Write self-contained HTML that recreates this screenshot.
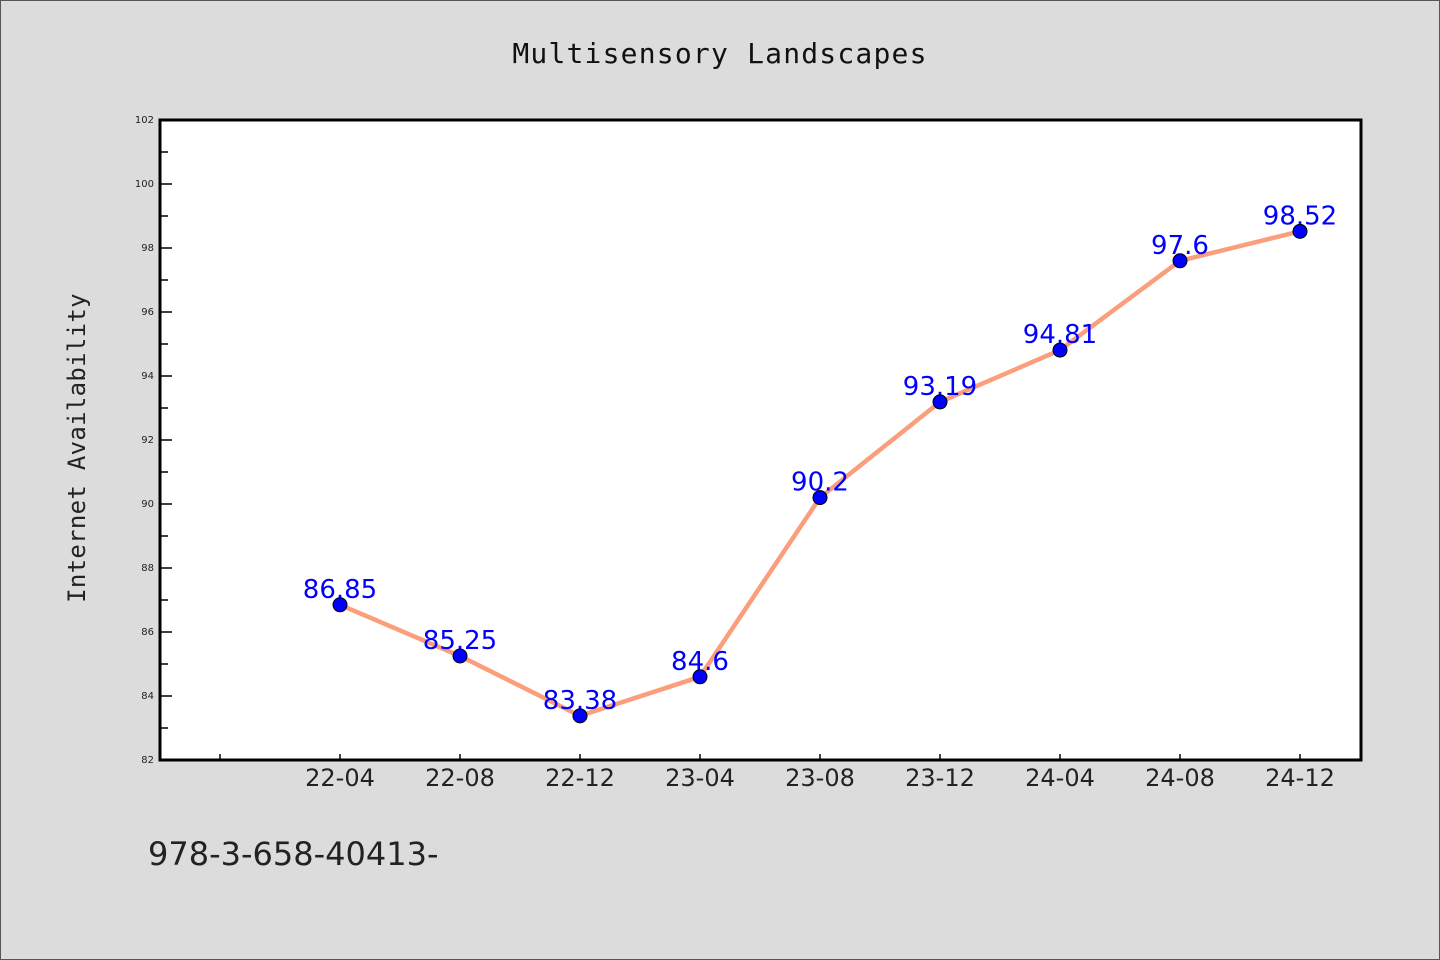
<!DOCTYPE html>
<html><head><meta charset="utf-8"><style>
body{margin:0;background:#dcdcdc;}
svg{display:block;font-family:"DejaVu Sans","Liberation Sans",sans-serif;}
</style></head><body>
<svg id="chart" width="1440" height="960" viewBox="0 0 1440 960" xmlns="http://www.w3.org/2000/svg">
<rect x="0.5" y="0.5" width="1439" height="959" fill="#dcdcdc" stroke="#555" stroke-width="1"/>
<text x="720" y="63" text-anchor="middle" font-family="DejaVu Sans Mono, monospace" font-size="28" letter-spacing="1.2" fill="#111">Multisensory Landscapes</text>
<rect x="160" y="120" width="1201" height="640" fill="#fff"/>
<g id="axes"></g>
<g id="series"></g>
<rect x="160" y="120" width="1201" height="640" fill="none" stroke="#000" stroke-width="3"/>
<text transform="translate(85,448) rotate(-90)" text-anchor="middle" font-family="DejaVu Sans Mono, monospace" font-size="24" letter-spacing="0.3" fill="#222">Internet Availability</text>
<text x="148" y="865" font-size="32" fill="#222">978-3-658-40413-</text>
</svg>
<script>
const categories=["22-04","22-08","22-12","23-04","23-08","23-12","24-04","24-08","24-12"];
const values=[86.85,85.25,83.38,84.6,90.2,93.19,94.81,97.6,98.52];
const labels=["86.85","85.25","83.38","84.6","90.2","93.19","94.81","97.6","98.52"];
const yTicks=[82,84,86,88,90,92,94,96,98,100,102];
const yMin=82,yMax=102;
const NS="http://www.w3.org/2000/svg";
const L=160,R=1361,T=120,B=760;
function x(i){return L+(i+1.5)*120;}
function y(v){return B-(v-yMin)/(yMax-yMin)*(B-T);}
function mk(t,a,p){const e=document.createElementNS(NS,t);for(const k in a)e.setAttribute(k,a[k]);p.appendChild(e);return e;}
const ax=document.getElementById('axes'),se=document.getElementById('series');
yTicks.forEach(v=>{
  const l=mk('line',{x1:L,x2:L+12,y1:y(v),y2:y(v),stroke:'#000','stroke-width':1.5},ax);
  
  
  const t=mk('text',{x:L-6,y:y(v)+3,'text-anchor':'end','font-size':10,fill:'#222'},ax);
  t.textContent=v;
  
  
  if(v<yMax){
    const m=mk('line',{x1:L,x2:L+8,y1:y(v+1),y2:y(v+1),stroke:'#000','stroke-width':1.5},ax);
    
    
  }
});
for(let k=-1;k<categories.length;k++){
  const l=mk('line',{x1:x(k),x2:x(k),y1:B,y2:B-6,stroke:'#000','stroke-width':1.5},ax);
  
  
}
categories.forEach((c,i)=>{
  const t=mk('text',{x:x(i),y:B+26,'text-anchor':'middle','font-size':24,fill:'#222'},ax);
  t.textContent=c;
  
  
});
const pl=mk('polyline',{points:values.map((v,i)=>x(i)+','+y(v)).join(' '),fill:'none',stroke:'#fa9e7c','stroke-width':4.5,'stroke-linejoin':'round'},se);


values.forEach((v,i)=>{
  const t=mk('text',{x:x(i),y:y(v)-7,'text-anchor':'middle','font-size':26,fill:'#0000ff'},se);
  t.textContent=labels[i];
  
  
});
values.forEach((v,i)=>{
  const c=mk('circle',{cx:x(i),cy:y(v),r:7,fill:'#0000ff',stroke:'#000','stroke-width':1},se);
  
  
});
</script>
</body></html>
